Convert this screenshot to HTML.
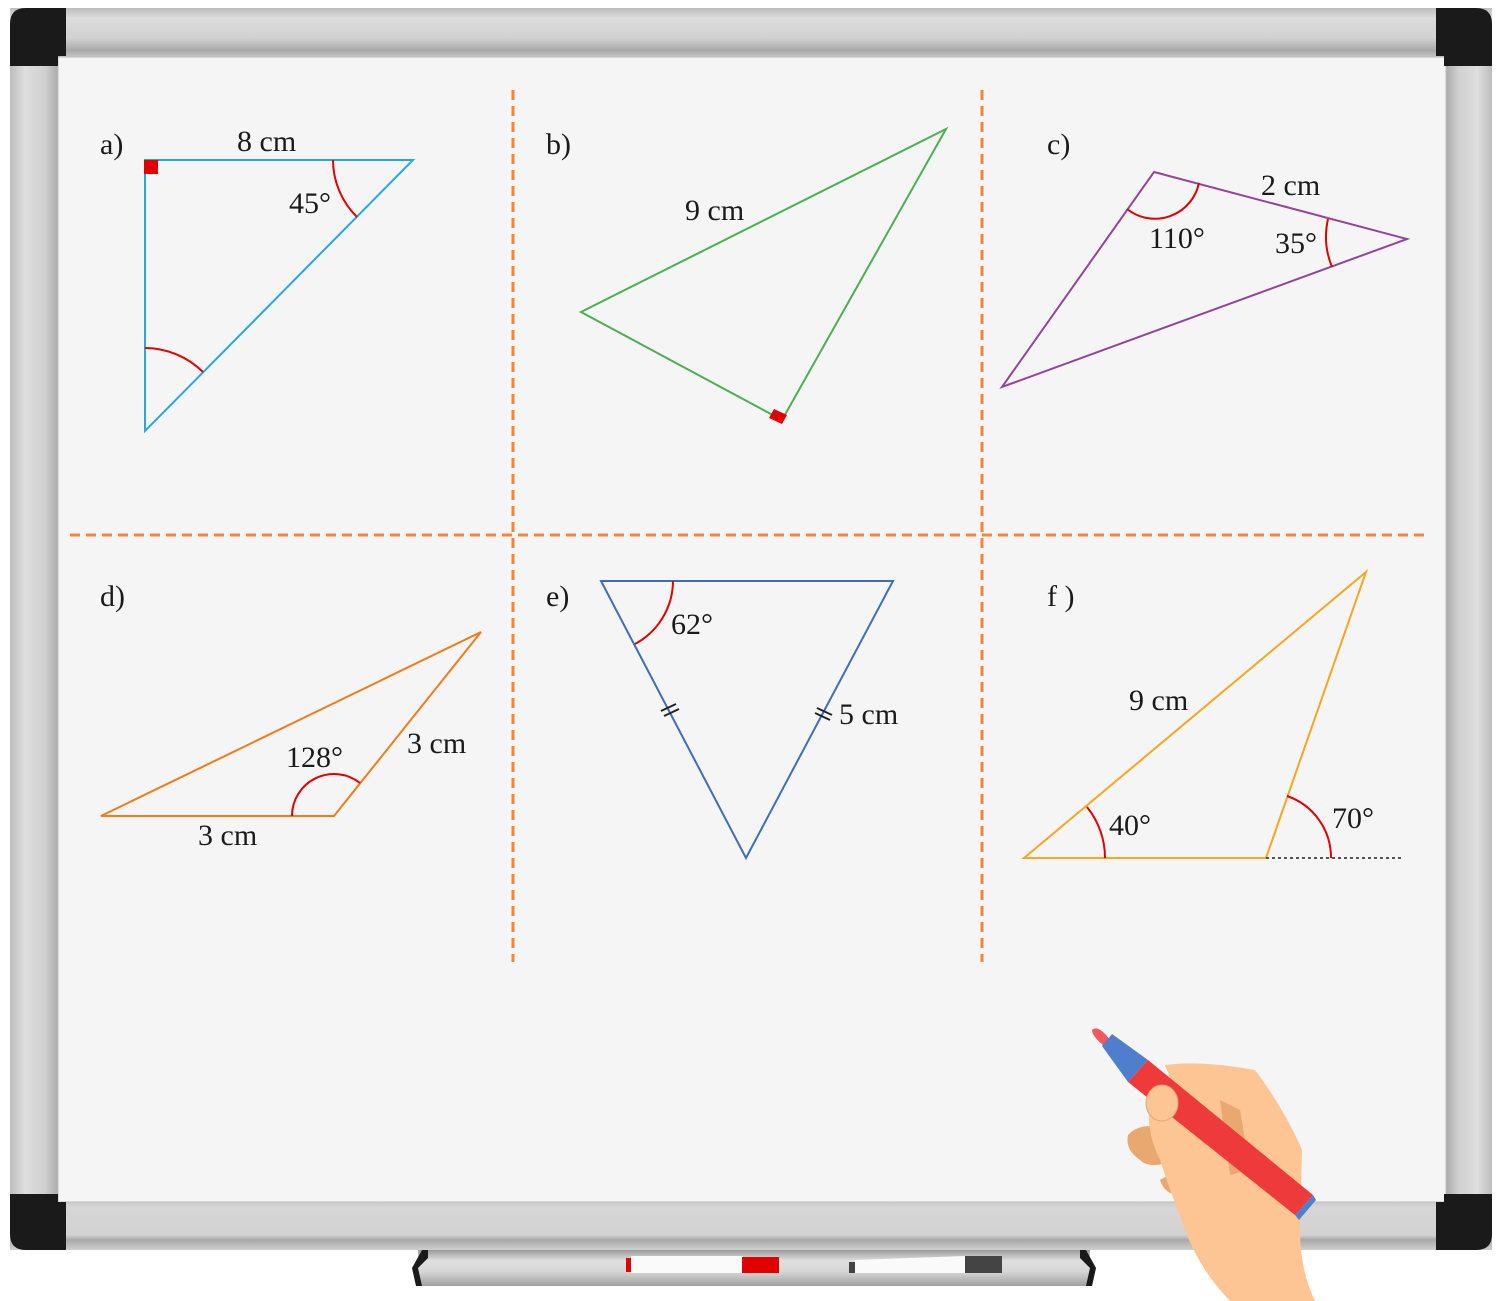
<!DOCTYPE html>
<html><head><meta charset="utf-8">
<style>
html,body{margin:0;padding:0;background:#fff;}
svg{display:block;}
text{font-family:"Liberation Serif",serif;font-size:30px;fill:#1a1a1a;}
</style></head>
<body>
<svg width="1500" height="1301" viewBox="0 0 1500 1301" xmlns="http://www.w3.org/2000/svg">
<defs>
<linearGradient id="ft" x1="0" y1="0" x2="0" y2="1">
<stop offset="0" stop-color="#bdbdbd"/><stop offset="0.2" stop-color="#dcdcdc"/><stop offset="0.6" stop-color="#d2d2d2"/><stop offset="0.85" stop-color="#a8a8a8"/><stop offset="1" stop-color="#c8c8c8"/></linearGradient>
<linearGradient id="fb" x1="0" y1="0" x2="0" y2="1">
<stop offset="0" stop-color="#c8c8c8"/><stop offset="0.15" stop-color="#d6d6d6"/><stop offset="0.7" stop-color="#d2d2d2"/><stop offset="0.8" stop-color="#a8a8a8"/><stop offset="1" stop-color="#cfcfcf"/></linearGradient>
<linearGradient id="fv" x1="0" y1="0" x2="1" y2="0">
<stop offset="0" stop-color="#bdbdbd"/><stop offset="0.3" stop-color="#dedede"/><stop offset="0.7" stop-color="#d0d0d0"/><stop offset="1" stop-color="#a5a5a5"/></linearGradient>
<linearGradient id="fv2" x1="1" y1="0" x2="0" y2="0">
<stop offset="0" stop-color="#bdbdbd"/><stop offset="0.3" stop-color="#dedede"/><stop offset="0.7" stop-color="#d0d0d0"/><stop offset="1" stop-color="#a5a5a5"/></linearGradient>
<linearGradient id="tray" x1="0" y1="0" x2="0" y2="1">
<stop offset="0" stop-color="#9a9a9a"/><stop offset="0.3" stop-color="#e0e0e0"/><stop offset="0.6" stop-color="#d6d6d6"/><stop offset="1" stop-color="#a0a0a0"/></linearGradient>
</defs>
<g>
<rect x="10" y="8" width="1482" height="50" fill="url(#ft)"/>
<rect x="10" y="1200" width="1482" height="50" fill="url(#fb)"/>
<rect x="10" y="56" width="50" height="1146" fill="url(#fv)"/>
<rect x="1444" y="56" width="48" height="1146" fill="url(#fv2)"/>
<rect x="58" y="57" width="1388" height="1145" fill="#f5f5f5" stroke="#bdbdbd" stroke-width="1"/>
<path d="M10 66 V24 Q10 8 26 8 H66 V56 H58 V66 Z" fill="#1a1a1a"/>
<path d="M1492 66 V24 Q1492 8 1476 8 H1436 V56 H1444 V66 Z" fill="#1a1a1a"/>
<path d="M10 1194 V1234 Q10 1250 26 1250 H66 V1202 H58 V1194 Z" fill="#1a1a1a"/>
<path d="M1492 1194 V1234 Q1492 1250 1476 1250 H1436 V1202 H1444 V1194 Z" fill="#1a1a1a"/>
</g>
<g>
<rect x="418" y="1250" width="672" height="36" fill="url(#tray)"/>
<path d="M428 1250 H422 L412 1268 L416 1286 H422 L418 1268 L428 1258 Z" fill="#1a1a1a"/>
<path d="M1080 1250 H1086 L1096 1268 L1092 1286 H1086 L1090 1268 L1080 1258 Z" fill="#1a1a1a"/>
<g>
<rect x="626" y="1258" width="6" height="14" fill="#e00000"/>
<rect x="631" y="1256" width="112" height="17" fill="#fafafa"/>
<rect x="742" y="1257" width="37" height="16" fill="#e00000"/>
</g>
<g>
<rect x="849" y="1262" width="6" height="11" fill="#444"/>
<polygon points="855,1260 965,1256 965,1273 855,1273" fill="#fafafa"/>
<rect x="965" y="1256" width="37" height="17" fill="#444"/>
</g>
</g>
<g stroke="#f0873a" stroke-width="3" stroke-dasharray="10 6" fill="none">
<line x1="513" y1="90" x2="513" y2="962"/>
<line x1="982" y1="90" x2="982" y2="962"/>
<line x1="70" y1="535" x2="1430" y2="535"/>
</g>
<g>
<polygon points="145,160 413,160 145,431" fill="none" stroke="#29a8e0" stroke-width="2"/>
<rect x="144" y="160" width="14" height="14" fill="#e00000"/>
<path d="M333 160 A80 80 0 0 0 357 217" fill="none" stroke="#e00000" stroke-width="2"/>
<path d="M145 348 A83 83 0 0 1 203 372" fill="none" stroke="#e00000" stroke-width="2"/>
<text x="100" y="154">a)</text><text x="237" y="151">8 cm</text><text x="289" y="213">45°</text>
</g>
<g>
<polygon points="581,312 946,129 782,420" fill="none" stroke="#4caf50" stroke-width="2"/>
<polygon points="782,420 769,414 774,405 787,411" fill="#e00000" transform="translate(0,4)"/>
<text x="546" y="154">b)</text><text x="685" y="220">9 cm</text>
</g>
<g>
<polygon points="1154,172 1407,239 1002,387" fill="none" stroke="#93449a" stroke-width="2"/>
<path d="M1127 209 A45 45 0 0 0 1199 183" fill="none" stroke="#e00000" stroke-width="2"/>
<path d="M1328 219 A80 80 0 0 0 1332 267" fill="none" stroke="#e00000" stroke-width="2"/>
<text x="1047" y="154">c)</text><text x="1261" y="195">2 cm</text><text x="1149" y="248">110°</text><text x="1275" y="253">35°</text>
</g>
<g>
<polygon points="101,816 334,816 481,632" fill="none" stroke="#f07b1a" stroke-width="2"/>
<path d="M292 816 A42 42 0 0 1 360 783" fill="none" stroke="#e00000" stroke-width="2"/>
<text x="100" y="606">d)</text><text x="286" y="767">128°</text><text x="407" y="753">3 cm</text><text x="198" y="845">3 cm</text>
</g>
<g>
<polygon points="601,581 893,581 746,858" fill="none" stroke="#3d6fb8" stroke-width="2"/>
<path d="M673 581 A72 72 0 0 1 635 644" fill="none" stroke="#e00000" stroke-width="2"/>
<g stroke="#222" stroke-width="2"><line x1="661" y1="711" x2="676" y2="704"/><line x1="664" y1="716" x2="679" y2="709"/>
<line x1="817" y1="708" x2="832" y2="715"/><line x1="815" y1="713" x2="830" y2="720"/></g>
<text x="546" y="606">e)</text><text x="671" y="634">62°</text><text x="839" y="724">5 cm</text>
</g>
<g>
<polygon points="1024,858 1266,858 1366,572" fill="none" stroke="#f5a623" stroke-width="2"/>
<line x1="1266" y1="858" x2="1402" y2="858" stroke="#222" stroke-width="1.5" stroke-dasharray="3 3"/>
<path d="M1105 858 A81 81 0 0 0 1087 807" fill="none" stroke="#e00000" stroke-width="2"/>
<path d="M1331 858 A65 65 0 0 0 1287 796" fill="none" stroke="#e00000" stroke-width="2"/>
<text x="1047" y="606">f )</text><text x="1129" y="710">9 cm</text><text x="1109" y="835">40°</text><text x="1332" y="828">70°</text>
</g>
<g>
<path d="M1128 1135 Q1140 1122 1162 1128 L1175 1160 Q1150 1170 1140 1160 Q1125 1150 1128 1135 Z" fill="#e8a870"/>
<path d="M1160 1180 Q1175 1170 1190 1180 L1180 1195 Q1165 1195 1160 1180 Z" fill="#e8a870"/>
<path d="M1165 1065 Q1200 1060 1255 1070 Q1285 1110 1302 1150 L1300 1230 Q1300 1270 1315 1301 H1230 Q1200 1270 1185 1230 Q1170 1190 1160 1160 Q1145 1130 1150 1100 Q1160 1085 1175 1090 Z" fill="#fdc594"/>
<path d="M1220 1100 L1240 1110 L1250 1170 L1230 1175 Z" fill="#e8a870"/>
<g>
<path d="M1092 1030 Q1098 1024 1110 1040 L1104 1046 Q1092 1036 1092 1030 Z" fill="#f05a5a"/>
<polygon points="1102,1046 1112,1034 1148,1060 1128,1082" fill="#4f7fcc"/>
<polygon points="1128,1082 1148,1060 1313,1195 1295,1215" fill="#ee3a3a"/>
<polygon points="1295,1215 1313,1195 1316,1200 1299,1220" fill="#4f7fcc"/>
</g>
<ellipse cx="1162" cy="1103" rx="16" ry="18" fill="#fdc594" stroke="#e8a870" stroke-width="1"/>
</g>
</svg>
</body></html>
